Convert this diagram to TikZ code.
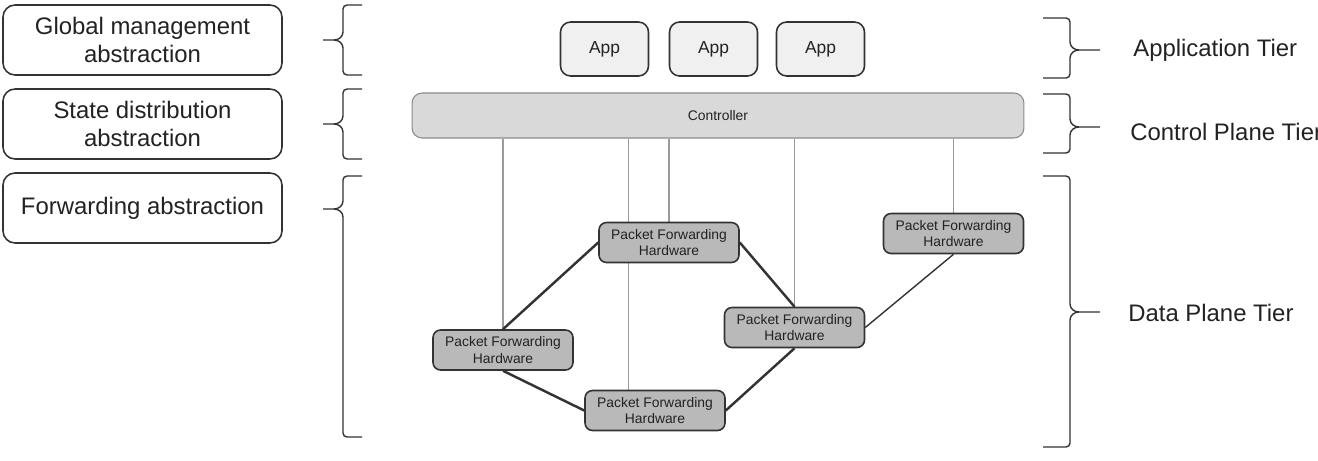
\documentclass[tikz,border=0pt]{standalone}
\usepackage{fontspec}
\setmainfont{Liberation Sans}
\usepackage{xcolor}
\usepackage{tikz}
\usetikzlibrary{positioning}
\usetikzlibrary{backgrounds}
\definecolor{boxline}{HTML}{333333}
\definecolor{textgrey}{HTML}{222222}
\definecolor{appfill}{HTML}{F0F0F0}
\definecolor{ctrlfill}{HTML}{D9D9D9}
\definecolor{ctrlline}{HTML}{8A8A8A}
\definecolor{pfhfill}{HTML}{B9B9B9}
\definecolor{linkgrey}{HTML}{9A9A9A}
\tikzstyle{absbox} = [draw=boxline, line width=0.9pt, rounded corners=0.24cm, fill=white, minimum width=5.58cm, minimum height=1.4cm, align=center, text=textgrey, font=\fontsize{13.6}{15.9}\selectfont]
\tikzstyle{appbox} = [draw=boxline, line width=0.9pt, rounded corners=0.2cm, fill=appfill, minimum width=1.76cm, minimum height=1.08cm, text=textgrey, font=\fontsize{9.9}{12}\selectfont]
\tikzstyle{ctrlbox} = [draw=ctrlline, line width=0.6pt, rounded corners=0.2cm, fill=ctrlfill, minimum width=12.24cm, minimum height=0.9cm, text=textgrey, font=\fontsize{7.9}{9.5}\selectfont]
\tikzstyle{pfhbox} = [draw=boxline, line width=0.9pt, rounded corners=0.15cm, fill=pfhfill, minimum width=2.8cm, minimum height=0.8cm, inner sep=1pt, align=center, text=textgrey, font=\fontsize{7.9}{9.5}\selectfont]
\tikzstyle{tierlabel} = [anchor=west, inner sep=0pt, text=textgrey, font=\fontsize{13.6}{15.9}\selectfont]
\tikzstyle{ctrllink} = [draw=linkgrey, line width=0.6pt]
\tikzstyle{hwlink} = [draw=boxline, line width=1.4pt]
\tikzstyle{mybrace} = [draw=boxline, line width=0.8pt]

\begin{document}
\begin{tikzpicture}[x=0.02cm, y=-0.02cm]
        \useasboundingbox (0,0) rectangle (1318,460);

        % Abstractions
        \node[absbox] (abs_1) at (142.5,40) {Global management\\abstraction};
        \node[absbox] (abs_2) at (142.5,124) {State distribution\\abstraction};
        \node[absbox] (abs_3) at (142.5,208) {Forwarding abstraction};

        % Left braces
        \draw[mybrace] (362,5) -- (347,5) to[out=180,in=90] (343,9) -- (343,32) to[out=-90,in=0] (334,40) -- (323,40) -- (334,40) to[out=0,in=90] (343,48) -- (343,71) to[out=-90,in=180] (347,75) -- (362,75);
        \draw[mybrace] (362,89) -- (347,89) to[out=180,in=90] (343,93) -- (343,116) to[out=-90,in=0] (334,124) -- (323,124) -- (334,124) to[out=0,in=90] (343,132) -- (343,155) to[out=-90,in=180] (347,159) -- (362,159);
        \draw[mybrace] (362,176) -- (347,176) to[out=180,in=90] (343,180) -- (343,201) to[out=-90,in=0] (334,209) -- (323,209) -- (334,209) to[out=0,in=90] (343,217) -- (343,433) to[out=-90,in=180] (347,437) -- (362,437);

        % Apps and controller
        \node[appbox] (app_1) at (604.5,49) {App};
        \node[appbox] (app_2) at (713.5,49) {App};
        \node[appbox] (app_3) at (820.5,49) {App};
        \node[ctrlbox] (ctrl) at (718,115.5) {Controller};

        % Packet forwarding hardware
        \node[pfhbox] (pfh_1) at (669,242.5) {Packet Forwarding\\Hardware};
        \node[pfhbox] (pfh_2) at (503,350) {Packet Forwarding\\Hardware};
        \node[pfhbox] (pfh_3) at (655,410.5) {Packet Forwarding\\Hardware};
        \node[pfhbox] (pfh_4) at (794.5,327.5) {Packet Forwarding\\Hardware};
        \node[pfhbox] (pfh_5) at (953.5,233.5) {Packet Forwarding\\Hardware};
        \coordinate (c_3) at ([xshift=0.88cm]pfh_3.north west);

        % Links
        \begin{pgfonlayer}{background}
        \draw[ctrllink] (pfh_2.north) -- (pfh_2.north |- ctrl.south);
        \draw[ctrllink] (c_3) -- (c_3 |- ctrl.south);
        \draw[ctrllink] (pfh_1.north) -- (pfh_1.north |- ctrl.south);
        \draw[ctrllink] (pfh_4.north) -- (pfh_4.north |- ctrl.south);
        \draw[ctrllink] (pfh_5.north) -- (pfh_5.north |- ctrl.south);
        \end{pgfonlayer}
        \draw[hwlink] (pfh_1.west) -- (pfh_2.north);
        \draw[hwlink] (pfh_1.east) -- (pfh_4.north);
        \draw[hwlink] (pfh_2.south) -- (pfh_3.west);
        \draw[hwlink] (pfh_3.east) -- (pfh_4.south);
        \draw[boxline, line width=0.8pt] (pfh_4.east) -- (pfh_5.south);

        % Right braces
        \draw[mybrace] (1043,18) -- (1066,18) to[out=0,in=90] (1070,22) -- (1070,42) to[out=-90,in=180] (1079,50) -- (1100,50) -- (1079,50) to[out=180,in=90] (1070,58) -- (1070,74) to[out=-90,in=0] (1066,78) -- (1043,78);
        \draw[mybrace] (1043,94) -- (1066,94) to[out=0,in=90] (1070,98) -- (1070,119) to[out=-90,in=180] (1079,127) -- (1100,127) -- (1079,127) to[out=180,in=90] (1070,135) -- (1070,149) to[out=-90,in=0] (1066,153) -- (1043,153);
        \draw[mybrace] (1043,176) -- (1066,176) to[out=0,in=90] (1070,180) -- (1070,304) to[out=-90,in=180] (1079,312) -- (1100,312) -- (1079,312) to[out=180,in=90] (1070,320) -- (1070,443) to[out=-90,in=0] (1066,447) -- (1043,447);

        % Tiers
        \node[tierlabel] (tier_app) at (1133,50) {Application Tier};
        \node[tierlabel] (tier_ctrl) at (1130,132) {Control Plane Tier};
        \node[tierlabel] (tier_data) at (1128,313) {Data Plane Tier};
\end{tikzpicture}
\end{document}
